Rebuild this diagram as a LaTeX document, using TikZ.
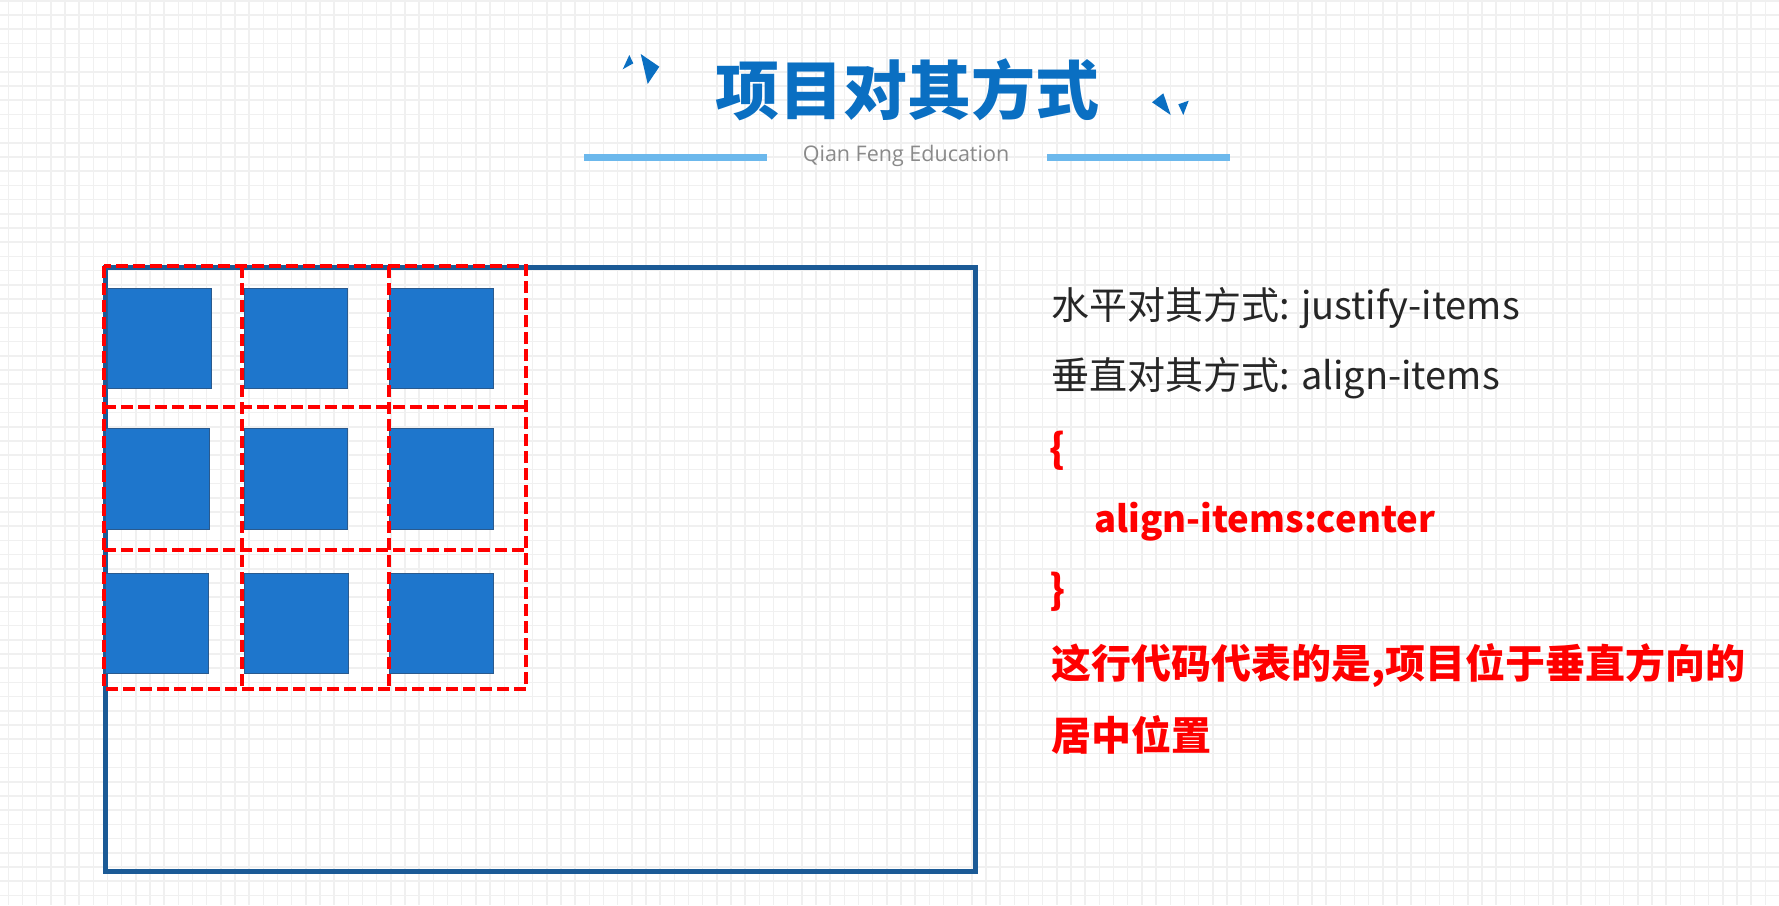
\documentclass[tikz,border=0pt]{standalone}
\usepackage{fontspec}
\setmainfont{Noto Sans CJK SC}
\newfontfamily\cjk{Noto Sans CJK SC}
\newfontfamily\subfont{Open Sans}
\definecolor{titleblue}{HTML}{0A6FC2}
\definecolor{lineblue}{HTML}{6CB8EC}
\definecolor{boxblue}{HTML}{1B5A96}
\definecolor{sqfill}{HTML}{1E76CC}
\definecolor{sqedge}{HTML}{2A5A8E}
\definecolor{gridgray}{HTML}{F0F0F0}
\definecolor{subgray}{HTML}{8A8A8A}
\definecolor{txtred}{HTML}{FF0000}
\tikzset{
  gridline/.style={draw=gridgray, line width=1.5pt},
  sq/.style={fill=sqfill, draw=sqedge, line width=0.8pt},
  reddash/.style={draw=txtred, line width=4pt, dash pattern=on 12pt off 5pt},
  mainbox/.style={draw=boxblue, line width=5pt},
  deco/.style={fill=titleblue},
  bar/.style={draw=lineblue, line width=7pt},
  blacktxt/.style={anchor=base west, inner sep=0pt, font=\cjk\fontsize{38}{38}\selectfont, text=black!85},
  redtxt/.style={anchor=base west, inner sep=0pt, font=\cjk\bfseries\fontsize{40}{40}\selectfont, text=txtred},
  redcode/.style={anchor=base west, inner sep=0pt, font=\cjk\bfseries\fontsize{36.5}{36.5}\selectfont, text=txtred},
}
\begin{document}
\begin{tikzpicture}[x=1pt,y=-1pt]
\fill[white] (0,0) rectangle (1779,905);
\useasboundingbox (0,0) rectangle (1779,905);
% background grid
\foreach \i in {0,...,125} \draw[gridline] ({8.3+14.17*\i},0) -- ({8.3+14.17*\i},905);
\foreach \j in {0,...,64} \draw[gridline] (0,{0.8+14.2*\j}) -- (1779,{0.8+14.2*\j});

% title
\node[anchor=base, inner sep=0pt, font=\cjk\bfseries\fontsize{64}{64}\selectfont, text=titleblue] (title) at (907,114) {项目对其方式};
\node[anchor=base, inner sep=0pt, font=\subfont\fontsize{21.5}{21.5}\selectfont, text=subgray] (sub) at (906,161) {Qian Feng Education};
\draw[bar] (584,157) -- (767,157);
\draw[bar] (1047,157) -- (1230,157);
% decorations
\fill[deco] (629.3,55) -- (633.3,63.3) -- (622.7,69.3) -- cycle;
\fill[deco] (640.7,54) -- (659.3,66.7) -- (647.7,84) -- cycle;
\fill[deco] (1163.3,93.3) -- (1152,102.3) -- (1170.7,115) -- cycle;
\fill[deco] (1178.3,104.3) -- (1188.7,100.7) -- (1183.3,115) -- cycle;

% container
\draw[mainbox] (105,267) rectangle (975,871.5);

% items
\draw[sq] (107,288) rectangle (211,388);
\draw[sq] (244,288) rectangle (347,388);
\draw[sq] (389,288) rectangle (493,388);
\draw[sq] (105,428) rectangle (209,529);
\draw[sq] (244,428) rectangle (347,529);
\draw[sq] (389,428) rectangle (493,529);
\draw[sq] (105,573) rectangle (208,673);
\draw[sq] (244,573) rectangle (348,673);
\draw[sq] (389,573) rectangle (493,673);

% grid cells (dashed)
\draw[reddash] (104,266) rectangle (526,689);
\draw[reddash] (242,266) -- (242,689);
\draw[reddash] (389,266) -- (389,689);
\draw[reddash] (104,407) -- (526,407);
\draw[reddash] (104,550) -- (526,550);

% right-hand text
\node[blacktxt] (l1) at (1051,319) {水平对其方式: justify-items};
\node[blacktxt] (l2) at (1051,389) {垂直对其方式: align-items};
\node[redtxt] (l3) at (1049,463) {\{};
\node[redcode] (l4) at (1094,532) {align-items:center};
\node[redtxt] (l5) at (1049,604) {\}};
\node[redtxt] (l6) at (1051,678) {这行代码代表的是,项目位于垂直方向的};
\node[redtxt] (l7) at (1051,750) {居中位置};
\end{tikzpicture}
\end{document}
